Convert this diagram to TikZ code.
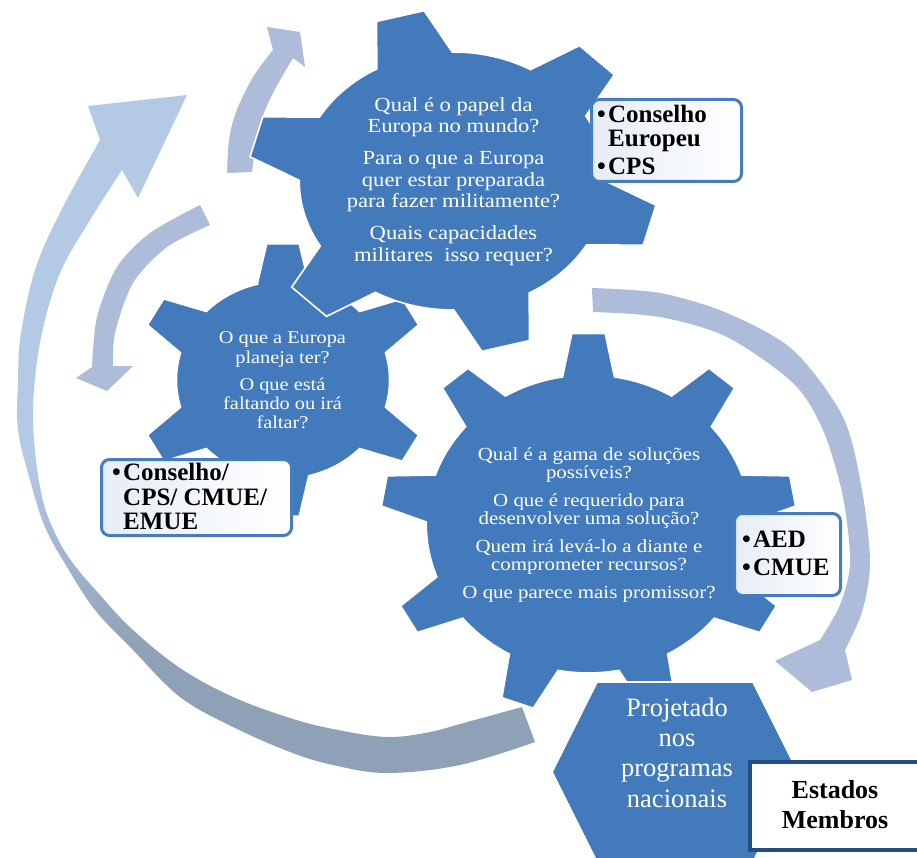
\documentclass[tikz,border=0pt]{standalone}
\usepackage{fontspec}
\setmainfont{Liberation Serif}
\newfontfamily\gearfont[FakeStretch=1.13]{Liberation Serif}
\usetikzlibrary{shadings}
\definecolor{gearblue}{RGB}{66,122,187}
\definecolor{arrowc}{RGB}{172,188,217}
\definecolor{blight}{RGB}{180,202,228}
\definecolor{bgray}{RGB}{143,161,183}
\definecolor{boxborder}{RGB}{70,125,190}
\definecolor{boxfill}{RGB}{230,237,246}
\definecolor{navy}{RGB}{36,78,126}
\pgfdeclareverticalshading{bigarrowsh}{100bp}{color(0bp)=(bgray); color(34bp)=(bgray); color(48bp)=(blight); color(100bp)=(blight)}
% #1 last tooth index, #2 first tooth angle, #3 tooth step, #4 body radius, #5 tip radius, #6 base half-angle, #7 tip half-angle
\newcommand\gearpath[7]{%
  (#2-#6:#4) \foreach \k [evaluate=\k as \ang using #2+#3*\k] in {0,...,#1}{%
    -- (\ang-#7:#5) -- (\ang+#7:#5) -- (\ang+#6:#4)
    -- plot[domain=\ang+#6:\ang+#3-#6, samples=16] (\x:#4)} -- cycle}
\begin{document}
\begin{tikzpicture}[x=1pt,y=-1pt,
  gearfill/.style={fill=gearblue, draw=white, line width=1.6pt, line join=miter},
  gtxtT/.style={text=white, font=\gearfont\fontsize{20}{22}\selectfont, anchor=base, inner sep=0pt},
  gtxtL/.style={text=white, font=\gearfont\fontsize{18}{20}\selectfont, anchor=base, inner sep=0pt},
  gtxtB/.style={text=white, font=\gearfont\fontsize{18.5}{20}\selectfont, anchor=base, inner sep=0pt},
  hextxt/.style={text=white, font=\fontsize{26.5}{30}\selectfont, anchor=base, inner sep=0pt},
  bbox/.style={rectangle, draw=boxborder, line width=3pt, rounded corners=8pt, left color=boxfill, right color=white, inner sep=0pt},
  btxt/.style={text=black, font=\bfseries\fontsize{25}{27}\selectfont, anchor=base west, inner sep=0pt},
  esttxt/.style={text=black, font=\bfseries\fontsize{26}{28}\selectfont, anchor=base, inner sep=0pt}]
\useasboundingbox (0,0) rectangle (917,858);
\clip (0,0) rectangle (917,858);

% big outer arrow
\shade[shading=bigarrowsh]
  plot[smooth, tension=0.6] coordinates {(535,742) (460,765) (387,773) (333,765) (290,752) (233,727) (180,697) (133,650) (95,610) (67,567) (45,527) (30,480) (18,430) (18,380) (21,333) (36,267) (63,207) (100,140)}
  -- (88,106) -- (187,95) -- (138,198)
  -- plot[smooth, tension=0.6] coordinates {(122,170) (90,220) (60,273) (42,333) (34,390) (34,440) (42,497) (55,533) (72,562) (100,595) (133,630) (180,668) (233,697) (290,718) (333,729) (387,737) (430,732) (460,724) (522,707)}
  -- cycle;

% left small arrow
\fill[arrowc] plot[smooth] coordinates {(200,205) (150,233) (117,267) (97,317) (92,367)}
  -- (76,378) -- (107,391) -- (133,366)
  -- plot[smooth] coordinates {(113,366) (115,333) (133,283) (167,247) (210,225)} -- cycle;

% top small arrow
\fill[arrowc] plot[smooth] coordinates {(227,173) (229,140) (236,112) (253,77) (273,50)}
  -- (267,27) -- (300,32) -- (305,67)
  -- plot[smooth] coordinates {(293,58) (273,93) (259,127) (252,172)} -- cycle;

% right arrow
\fill[arrowc] plot[smooth] coordinates {(592,288) (660,293) (727,313) (793,350) (843,417) (862,490) (870,563) (862,612) (845,650)}
  -- (852,680) -- (812,692) -- (775,661)
  -- plot[smooth] coordinates {(820,640) (840,605) (850,563) (843,497) (823,430) (793,383) (727,337) (660,317) (593,312)} -- cycle;

% gears
\begin{scope}[shift={(283,380)}, xscale=1.48, yscale=1.37]
  \path[gearfill] \gearpath{5}{-90}{60}{72}{100}{14}{6.3};
\end{scope}
\begin{scope}[shift={(453,181)}, xscale=2.05, yscale=1.72]
  \path[gearfill] \gearpath{5}{-105}{60}{75}{100}{14.7}{6.9};
\end{scope}
\begin{scope}[shift={(588.5,524)}, xscale=2.08, yscale=1.91]
  \path[gearfill] \gearpath{8}{-90}{40}{78}{100}{9.2}{4.6};
\end{scope}

% hexagon
\path[gearfill] (597,682) -- (753,682) -- (798,772) -- (753,862) -- (597,862) -- (552,772) -- cycle;

% gear texts
\node[gtxtT] (t1) at (453.5,112) {Qual é o papel da};
\node[gtxtT] (t2) at (453.5,133) {Europa no mundo?};
\node[gtxtT] (t3) at (453.5,165) {Para o que a Europa};
\node[gtxtT] (t4) at (453.5,187) {quer estar preparada};
\node[gtxtT] (t5) at (453.5,208) {para fazer militamente?};
\node[gtxtT] (t6) at (453.5,240) {Quais capacidades};
\node[gtxtT] (t7) at (453.5,262) {militares\ \ isso requer?};

\node[gtxtL] (l1) at (282.5,343) {O que a Europa};
\node[gtxtL] (l2) at (282.5,363) {planeja ter?};
\node[gtxtL] (l3) at (282.5,390) {O que está};
\node[gtxtL] (l4) at (282.5,409) {faltando ou irá};
\node[gtxtL] (l5) at (282.5,428) {faltar?};

\node[gtxtB] (b1) at (589,460) {Qual é a gama de soluções};
\node[gtxtB] (b2) at (589,478) {possíveis?};
\node[gtxtB] (b3) at (589,506) {O que é requerido para};
\node[gtxtB] (b4) at (589,524) {desenvolver uma solução?};
\node[gtxtB] (b5) at (589,552) {Quem irá levá-lo a diante e};
\node[gtxtB] (b6) at (589,570) {comprometer recursos?};
\node[gtxtB] (b7) at (589,598) {O que parece mais promissor?};

\node[hextxt] (h1) at (677,716) {Projetado};
\node[hextxt] (h2) at (677,746) {nos};
\node[hextxt] (h3) at (677,776) {programas};
\node[hextxt] (h4) at (677,807) {nacionais};

% label boxes
\node[bbox, minimum width=150pt, minimum height=82pt] (box1) at (666.5,140.5) {};
\node[btxt] (c1) at (597,123) {\makebox[11pt][l]{•}Conselho};
\node[btxt] (c2) at (608,147) {Europeu};
\node[btxt] (c3) at (597,175) {\makebox[11pt][l]{•}CPS};

\node[bbox, minimum width=190pt, minimum height=76pt] (box2) at (196.5,497.5) {};
\node[btxt] (d1) at (112,480) {\makebox[11pt][l]{•}Conselho/};
\node[btxt] (d2) at (123,505) {CPS/ CMUE/};
\node[btxt] (d3) at (123,529) {EMUE};

\node[bbox, minimum width=106pt, minimum height=82pt] (box3) at (787.5,554.5) {};
\node[btxt] (e1) at (742,547) {\makebox[11pt][l]{•}AED};
\node[btxt] (e2) at (742,575) {\makebox[11pt][l]{•}CMUE};

\node[rectangle, draw=navy, line width=4pt, fill=white, minimum width=173pt, minimum height=88pt, inner sep=0pt] (est) at (836.5,806) {};
\node[esttxt] (s1) at (835,798) {Estados};
\node[esttxt] (s2) at (835,828) {Membros};
\end{tikzpicture}
\end{document}
